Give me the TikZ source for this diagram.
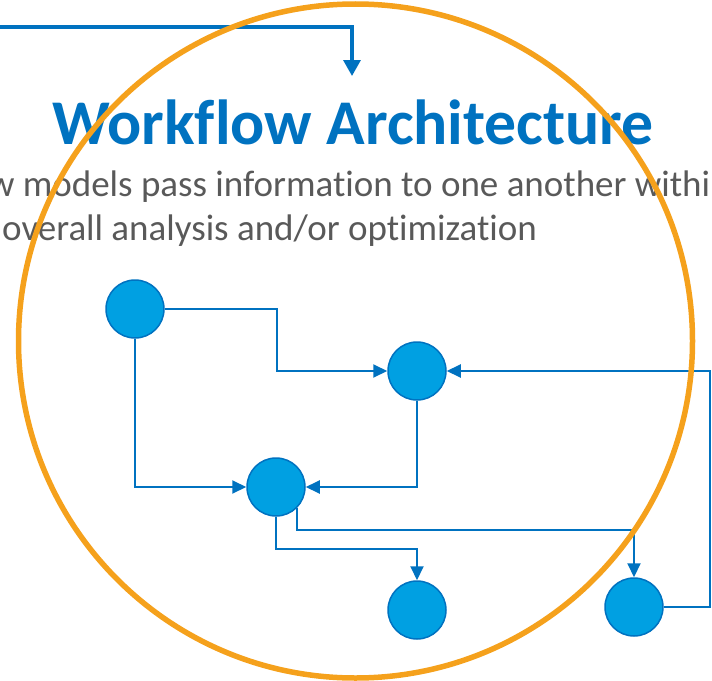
\documentclass[tikz,border=0pt]{standalone}
\usepackage{fontspec}
\setmainfont[Ligatures=NoCommon]{Carlito}
\usetikzlibrary{arrows.meta}
\definecolor{linkblue}{RGB}{0,114,192}
\definecolor{nodefill}{RGB}{0,160,226}
\definecolor{ringorange}{RGB}{245,161,28}
\definecolor{bodygray}{RGB}{89,89,89}
\tikzset{
  model/.style={circle, minimum size=58pt, inner sep=0pt, fill=nodefill, draw=linkblue, line width=1.5pt},
  link/.style={draw=linkblue, line width=2pt, -{Triangle[length=14pt,width=13pt]}},
  feed/.style={draw=linkblue, line width=3.3pt, -{Triangle[length=16pt,width=17pt]}},
  ring/.style={draw=ringorange, line width=5.5pt},
  caption/.style={anchor=base west, inner sep=0pt, text=bodygray, font=\fontsize{37}{44}\selectfont},
}
\begin{document}
\begin{tikzpicture}[x=1pt, y=-1pt]
  \useasboundingbox (0,0) rectangle (712,680);
  \clip (0,0) rectangle (712,680);

  % heading and description
  \node[anchor=base west, inner sep=0pt, text=linkblue, font=\bfseries\fontsize{63.7}{70}\selectfont] (title) at (52,144) {Workflow Architecture};
  \node[caption] (desc1) at (-51,196) {how models pass information to one another within};
  \node[caption] (desc2) at (2,240) {overall analysis and/or optimization};

  % incoming feed from the left
  \coordinate (feedL) at (0,27);
  \coordinate (feedT) at (352,76);
  \draw[feed] (feedL) -| (feedT);

  % models
  \node[model] (A) at (135,309) {};
  \node[model] (B) at (417,371) {};
  \node[model] (C) at (276,487) {};
  \node[model] (D) at (417,610) {};
  \node[model] (E) at (634,607) {};

  % data flow between models
  \draw[link] (A.east) -- ++(112,0) |- (B.west);
  \draw[link] (A.south) |- (C.west);
  \draw[link] (B.south) |- (C.east);
  \draw[link] (C.south) -- ++(0,32) -| (D.north);
  \draw[link] (C.-44) -- ++(0,22) -| (E.north);
  \coordinate (loopR) at (710,607);
  \draw[link] (E.east) -- (loopR) |- (B.east);

  % highlight ring
  \draw[ring] (355.5,341) circle[radius=337];
\end{tikzpicture}
\end{document}
